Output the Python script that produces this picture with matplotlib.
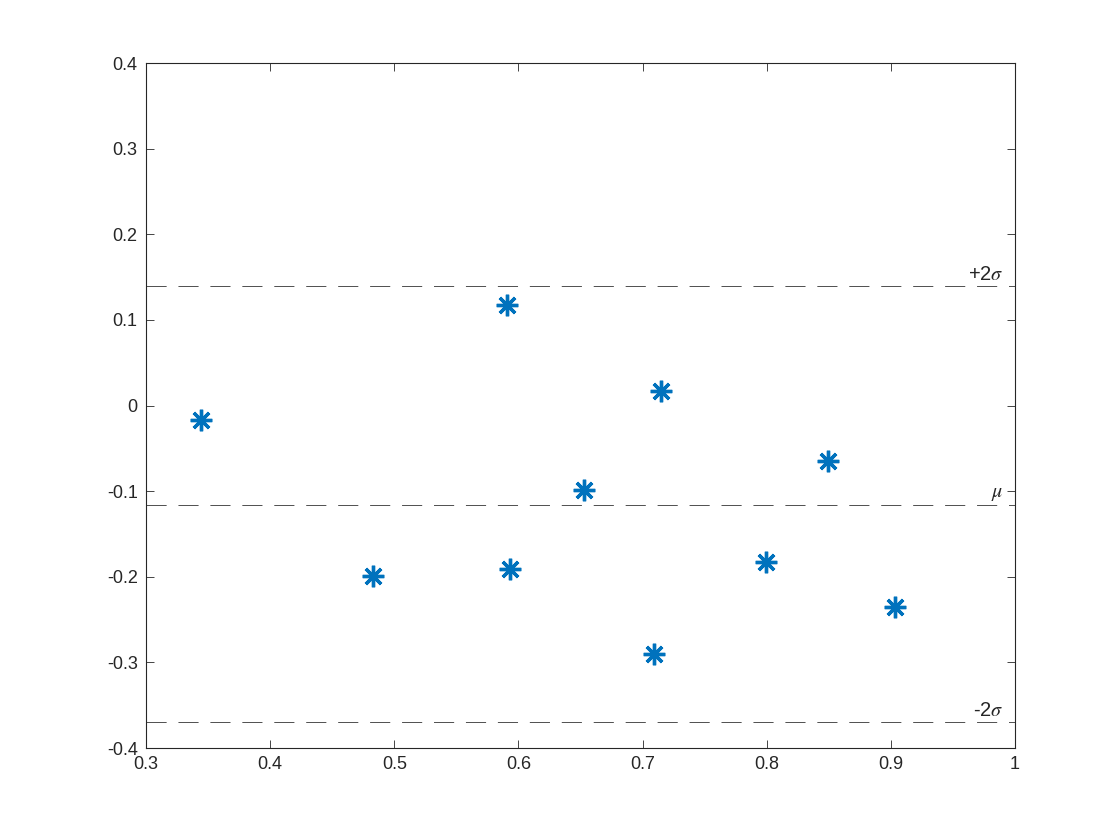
import numpy as np
import matplotlib.pyplot as plt

# residuals
x_vals = [0.344, 0.483, 0.591, 0.593, 0.653, 0.715, 0.709, 0.799, 0.849, 0.903]
y_vals = [-0.017, -0.199, 0.117, -0.191, -0.099, 0.017, -0.290, -0.183, -0.065, -0.235]

# reference lines (mean and +/- 2 sigma)
line_vals = [0.140, -0.116, -0.370]
line_labels = [r'+2$\sigma$', r'$\mu$', r'-2$\sigma$']

x_ticks = [0.3, 0.4, 0.5, 0.6, 0.7, 0.8, 0.9, 1.0]
x_ticklabels = ['0.3', '0.4', '0.5', '0.6', '0.7', '0.8', '0.9', '1']
y_ticks = [-0.4, -0.3, -0.2, -0.1, 0, 0.1, 0.2, 0.3, 0.4]
y_ticklabels = ['-0.4', '-0.3', '-0.2', '-0.1', '0', '0.1', '0.2', '0.3', '0.4']

plt.rcParams['font.family'] = ['Liberation Sans', 'DejaVu Sans']
plt.rcParams['mathtext.fontset'] = 'stix'
plt.rcParams['lines.scale_dashes'] = False

axis_color = '#262626'

fig = plt.figure(figsize=(11.2, 8.4), dpi=100)
ax = fig.add_axes([0.1304, 0.1095, 0.7759, 0.8155])

for yv, lab in zip(line_vals, line_labels):
    ax.axhline(yv, color='#333333', lw=0.6, linestyle=(0, (14.5, 8.5)), zorder=1)
    ax.annotate(lab, xy=(0.991, yv), xytext=(0, 1.5), textcoords='offset points',
                ha='right', va='bottom', fontsize=14.5, color=axis_color)

ax.plot(x_vals, y_vals, linestyle='none', marker=(8, 2, 0), markersize=15.5,
        markeredgewidth=2.4, color='#0072BD', zorder=3)

ax.set_xlim(0.3, 1.0)
ax.set_ylim(-0.4, 0.4)
ax.set_xticks(x_ticks)
ax.set_xticklabels(x_ticklabels)
ax.set_yticks(y_ticks)
ax.set_yticklabels(y_ticklabels)

ax.tick_params(direction='in', length=6, width=0.6, top=True, right=True,
               labelsize=13, colors=axis_color, pad=6)
for side in ax.spines.values():
    side.set_color(axis_color)
    side.set_linewidth(0.8)

fig.savefig('out.png', dpi=100)
